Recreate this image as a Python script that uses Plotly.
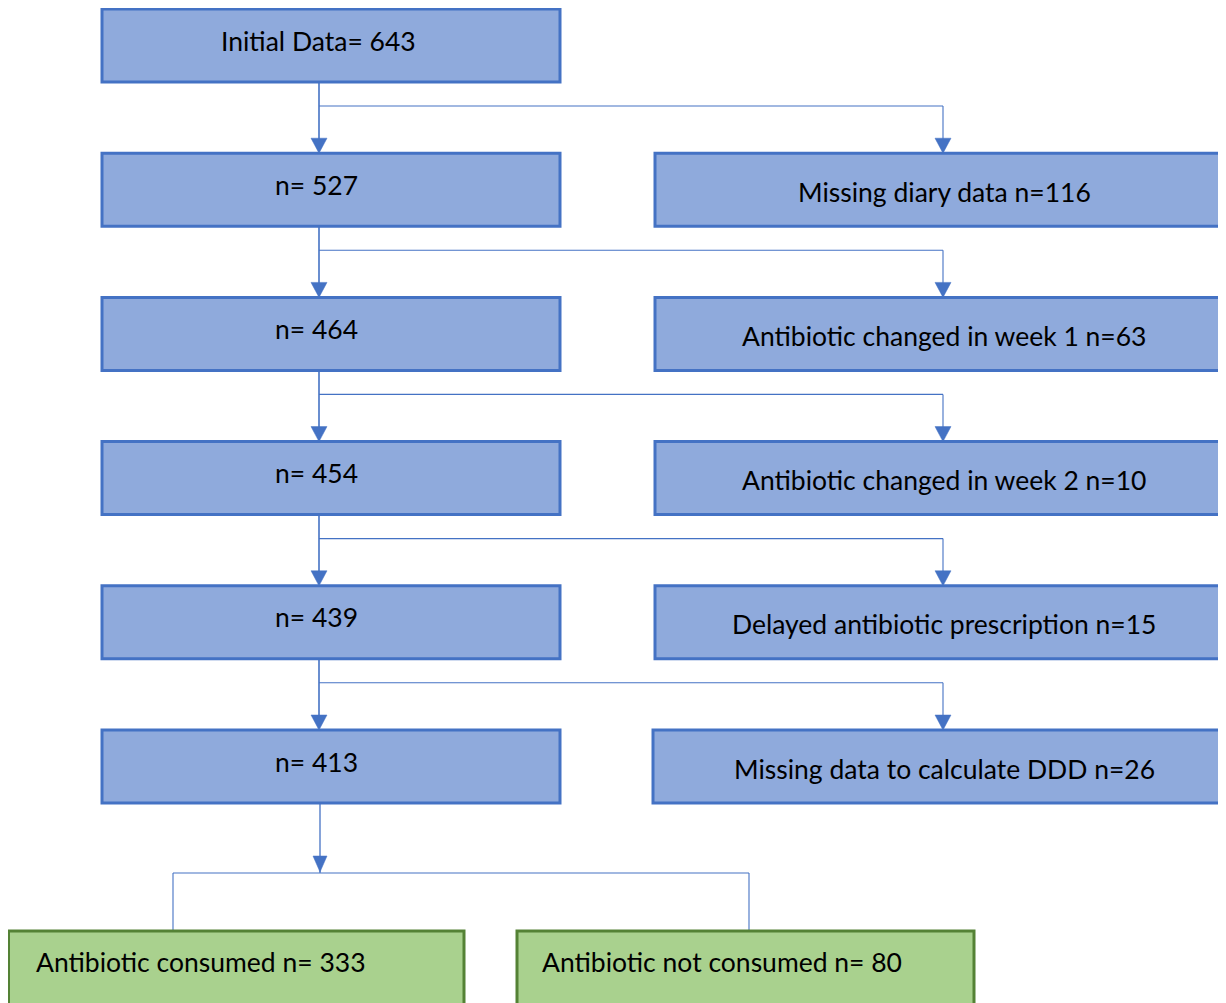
import plotly.graph_objects as go

# ---- data ----
main_labels = ["Initial Data= 643", "n= 527", "n= 464", "n= 454", "n= 439", "n= 413"]
main_counts = [643, 527, 464, 454, 439, 413]
excl_reasons = ["Missing diary data", "Antibiotic changed in week 1",
                "Antibiotic changed in week 2", "Delayed antibiotic prescription",
                "Missing data to calculate DDD"]
excl_counts = [116, 63, 10, 15, 26]
final_labels = ["Antibiotic consumed", "Antibiotic not consumed"]
final_counts = [333, 80]

# ---- layout constants ----
W, H = 1226, 1003
OFF = 8  # page body margin
BLUE_FILL = "#8FAADC"
BLUE_LINE = "#4472C4"
GREEN_FILL = "#A9D18E"
GREEN_LINE = "#548235"
FONT = "Lato, Carlito, Calibri, sans-serif"
FS = 26.5

row_top0 = 9
row_step = 144.2
box_h = 73
Lx0, Lx1 = 102, 560
Rx0, Rx1 = 655, 1232
cx_main = 319
cx_right = 943
cx_text_left = 316

shapes = []
annotations = []

def rect(x0, y0, x1, y1, fill, line, width=3):
    shapes.append(dict(type="rect", x0=x0, y0=y0, x1=x1, y1=y1, xref="x", yref="y",
                       fillcolor=fill, line=dict(color=line, width=width), layer="above"))

def line(x0, y0, x1, y1, width=1.3):
    shapes.append(dict(type="line", x0=x0, y0=y0, x1=x1, y1=y1, xref="x", yref="y",
                       line=dict(color=BLUE_LINE, width=width), layer="above"))

def arrowhead(x, ytip, hw=8, h=15):
    shapes.append(dict(type="path",
                       path=f"M {x-hw},{ytip-h} L {x+hw},{ytip-h} L {x},{ytip} Z",
                       xref="x", yref="y", fillcolor=BLUE_LINE,
                       line=dict(color=BLUE_LINE, width=0.5), layer="above"))

def text(x, y, s, xanchor="center", size=FS):
    annotations.append(dict(x=x, y=y, xref="x", yref="y", text=s, showarrow=False,
                            xanchor=xanchor, yanchor="middle",
                            font=dict(family=FONT, size=size, color="#000000")))

tops = [row_top0 + i * row_step for i in range(len(main_labels))]

# connectors
for i in range(len(main_labels) - 1):
    y_bot = tops[i] + box_h
    y_next = tops[i + 1]
    y_h = y_bot + 24
    line(cx_main, y_bot, cx_main, y_next - 2, width=1.6)
    arrowhead(cx_main, y_next)
    line(cx_main, y_h, cx_right, y_h, width=1.1)
    line(cx_right, y_h, cx_right, y_next - 2, width=1.1)
    arrowhead(cx_right, y_next)

# main boxes
for i, lab in enumerate(main_labels):
    t = tops[i]
    rect(Lx0, t, Lx1, t + box_h, BLUE_FILL, BLUE_LINE)
    text(cx_text_left + (2 if i == 0 else 0), t + box_h / 2 - 5, lab)

# exclusion boxes
for i, (reason, cnt) in enumerate(zip(excl_reasons, excl_counts)):
    t = tops[i + 1]
    x0 = Rx0 if i < 4 else Rx0 - 2
    rect(x0, t, Rx1, t + box_h, BLUE_FILL, BLUE_LINE)
    text(cx_right + 1, t + box_h / 2 + 2, f"{reason} n={cnt}")

# bottom split
y_last_bot = tops[-1] + box_h
y_split = 873
line(cx_main + 1, y_last_bot, cx_main + 1, y_split, width=1.3)
arrowhead(cx_main + 1, y_split - 1, hw=7, h=16)
gx = [(8.5, 464), (517, 974)]
g_top = 931
line(173, y_split, 749, y_split, width=1.1)
line(173, y_split, 173, g_top, width=1.1)
line(749, y_split, 749, g_top, width=1.1)
for (x0, x1), lab, cnt in zip(gx, final_labels, final_counts):
    rect(x0, g_top, x1, g_top + 75, GREEN_FILL, GREEN_LINE)
    text(x0 + 23 if x0 > 100 else 34, 962, f"{lab} n= {cnt}", xanchor="left")

fig = go.Figure()
fig.update_layout(
    width=W - OFF, height=H - OFF,
    margin=dict(l=0, r=0, t=0, b=0),
    paper_bgcolor="white", plot_bgcolor="white",
    xaxis=dict(range=[OFF, W], visible=False, fixedrange=True),
    yaxis=dict(range=[H, OFF], visible=False, fixedrange=True),
    shapes=shapes, annotations=annotations, showlegend=False,
)
fig.write_html("out.html")
